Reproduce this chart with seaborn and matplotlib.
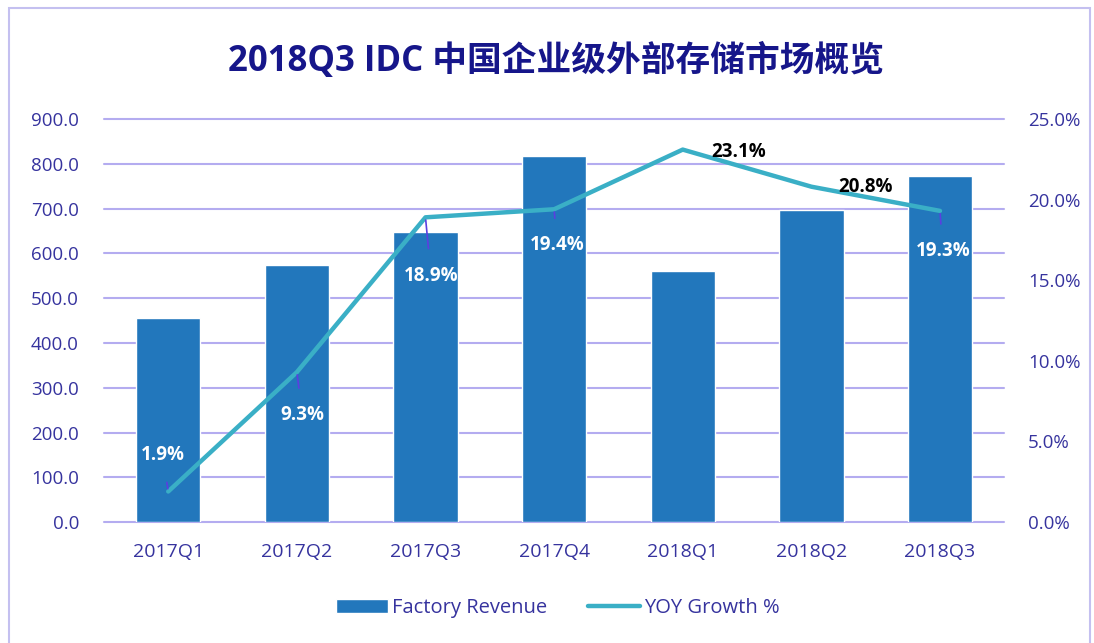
import numpy as np
import pandas as pd
import matplotlib
matplotlib.use("Agg")
import matplotlib.pyplot as plt
import seaborn as sns
from matplotlib.patches import Patch, Rectangle
from matplotlib.lines import Line2D

# data
quarters = ["2017Q1", "2017Q2", "2017Q3", "2017Q4", "2018Q1", "2018Q2", "2018Q3"]
revenue = [456, 575, 647, 817, 561, 697, 773]
yoy_growth = [1.9, 9.3, 18.9, 19.4, 23.1, 20.8, 19.3]

# label placement (offset in points) and colour for each growth label
label_offsets = [(-4, 26), (4, -31), (4, -42), (2, -26), (40, -2), (39, 0), (2, -29)]
label_colors = ["white", "white", "white", "white", "black", "black", "white"]

df = pd.DataFrame({"quarter": quarters, "revenue": revenue, "growth": yoy_growth})

sns.set_theme(style="white")
plt.rcParams["font.family"] = ["Open Sans", "Noto Sans CJK SC", "DejaVu Sans"]

bar_color = "#2277BC"
line_color = "#3AAFC6"
tick_color = "#36339E"
grid_color = "#B4ACF0"
fs = 13.5

fig = plt.figure(figsize=(10.94, 6.43), dpi=100)
ax = fig.add_axes([0.095, 0.188, 0.823, 0.627])

sns.barplot(data=df, x="quarter", y="revenue", color=bar_color, width=0.5,
            saturation=1, ax=ax, zorder=2)
ax.set_ylim(0, 900)
ax.set_yticks(np.arange(0, 901, 100))
ax.set_yticklabels([f"{v:.1f}" for v in np.arange(0, 901, 100)])
ax.set_xlim(-0.5, len(quarters) - 0.5)
ax.yaxis.grid(True, color=grid_color, linewidth=1.5, zorder=0)
for gl in ax.get_ygridlines():
    gl.set_clip_on(False)
ax.set_axisbelow(True)
ax.set_xlabel("")
ax.set_ylabel("")
for s in ax.spines.values():
    s.set_visible(False)
ax.xaxis.set_tick_params(length=0, labelsize=14, labelcolor=tick_color, pad=15)
ax.yaxis.set_tick_params(length=0, labelsize=fs, labelcolor=tick_color, pad=18)

ax2 = ax.twinx()
sns.lineplot(data=df, x="quarter", y="growth", color=line_color, linewidth=3.2,
             sort=False, ax=ax2, zorder=3)
ax2.set_ylim(0, 25)
ax2.set_yticks(np.arange(0, 26, 5))
ax2.set_yticklabels([f"{v:.1f}%" for v in np.arange(0, 26, 5)])
ax2.set_ylabel("")
for s in ax2.spines.values():
    s.set_visible(False)
ax2.yaxis.set_tick_params(length=0, labelsize=fs, labelcolor=tick_color, pad=17)

for i, (g, off, c) in enumerate(zip(yoy_growth, label_offsets, label_colors)):
    arrow = None
    if c == "white":
        arrow = dict(arrowstyle="-", color="#5B3FE0", lw=1.2, shrinkA=10, shrinkB=2)
    ax2.annotate(f"{g}%", xy=(i, g), xytext=off, textcoords="offset points",
                 ha="center", va="center", fontsize=fs, fontweight="bold", color=c,
                 arrowprops=arrow)

fig.text(0.508, 0.903, "2018Q3 IDC 中国企业级外部存储市场概览", ha="center", va="center",
         fontsize=25, fontweight="bold", color="#16168A")

handles = [Patch(facecolor=bar_color, label="Factory Revenue"),
           Line2D([0], [0], color=line_color, linewidth=3.2, label="YOY Growth %")]
fig.legend(handles=handles, loc="center", bbox_to_anchor=(0.51, 0.054), ncol=2,
           frameon=False, fontsize=14.5, labelcolor=tick_color, handlelength=2.6,
           handletextpad=0.2, columnspacing=2.0)

fig.patches.append(Rectangle((0.008, -0.02), 0.988, 1.008, transform=fig.transFigure,
                             fill=False, edgecolor="#C4C0F0", linewidth=1.5))

fig.savefig("out.png", dpi=100, facecolor="white")
